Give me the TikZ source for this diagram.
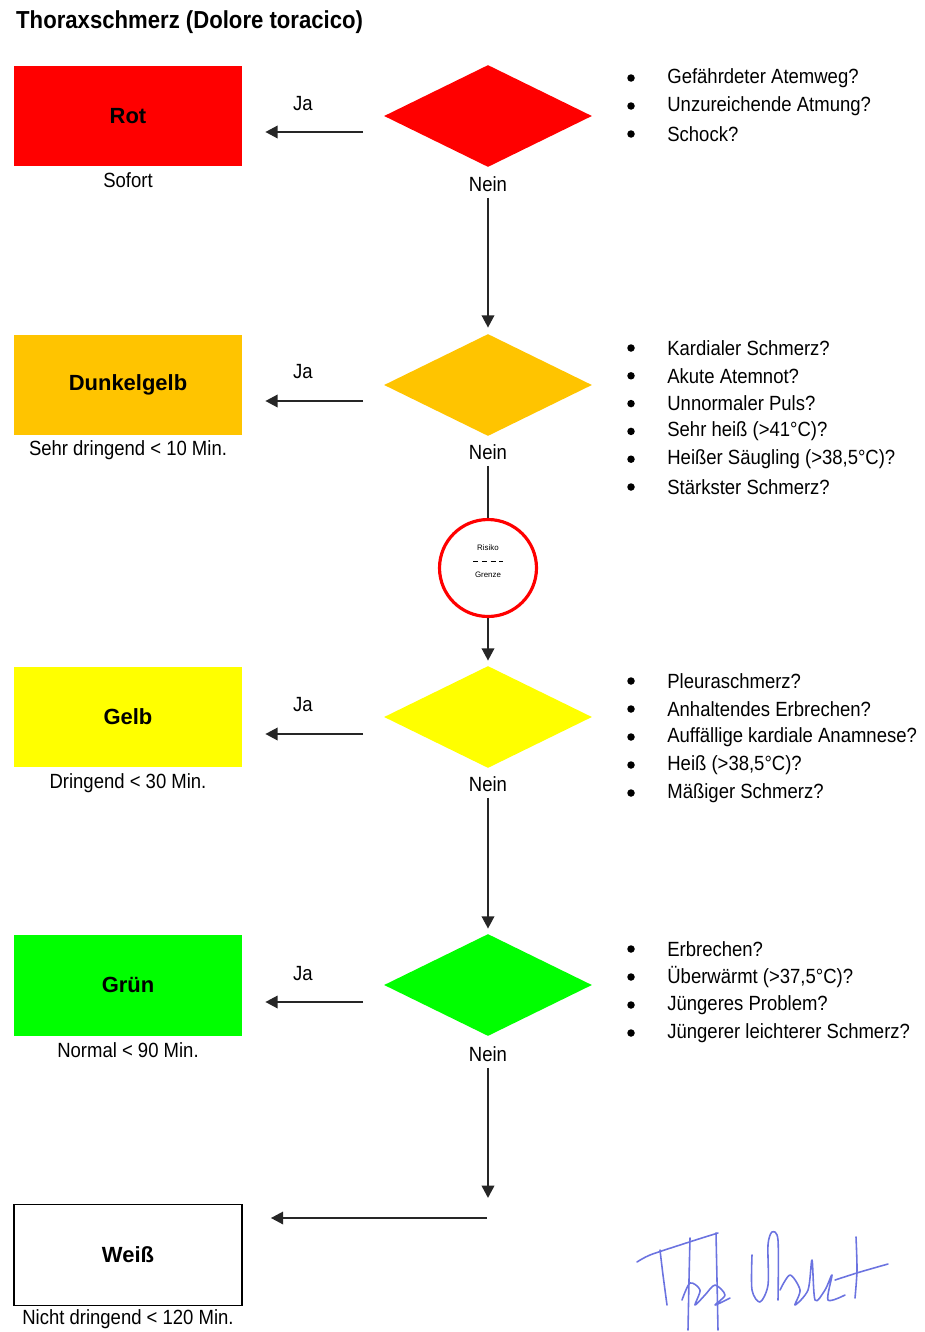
\documentclass[tikz,border=0pt]{standalone}
\usepackage{fontspec}
\setmainfont{Liberation Sans}
\newfontfamily\narrowfont[FakeStretch=0.9]{Liberation Sans}
\usetikzlibrary{shapes.geometric,arrows.meta}
\definecolor{rot}{HTML}{FF0000}
\definecolor{dunkelgelb}{HTML}{FFC400}
\definecolor{gelb}{HTML}{FFFF00}
\definecolor{gruen}{HTML}{00FF00}
\definecolor{sigblue}{HTML}{6B73E0}
\tikzset{
    level/.style={minimum width=4.56cm, minimum height=2.02cm, inner sep=0pt,
        font=\fontsize{12.5}{15}\selectfont\bfseries},
    query/.style={diamond, minimum width=4.16cm, minimum height=2.04cm, inner sep=0pt},
    txt/.style={font=\narrowfont\fontsize{11.7}{14}\selectfont},
    item/.style={txt, anchor=west, inner sep=0pt},
    dot/.style={circle, fill=black, inner sep=0pt, minimum size=0.15cm},
    arr/.style={-{Triangle[length=7pt,width=7pt]}, line width=1.4pt, black!85},
    sig/.style={sigblue, line width=0.9pt, line cap=round, line join=round}
}
\begin{document}
\begin{tikzpicture}[x=0.02cm, y=-0.02cm]
    \useasboundingbox (0,0) rectangle (925,1332);
    \node[anchor=west, font=\narrowfont\fontsize{14}{16}\selectfont\bfseries] (title) at (10,22) {Thoraxschmerz (Dolore toracico)};
    % Rot
    \node[level, fill=rot] (rot) at (128,116) {Rot};
    \node[txt] (rotsub) at (128,180) {Sofort};
    \node[query, fill=rot] (q1) at (488,116) {};
    \node[txt] (ja1) at (303,104) {Ja};
    \node[txt] (nein1) at (488,184) {Nein};
    \coordinate (ja1s) at (363,132);
    \draw[arr, shorten >=0.46cm] (ja1s) -- (rot.east |- ja1s);
    \foreach \t [count=\i] in {Gefährdeter Atemweg?, Unzureichende Atmung?, Schock?} {
        \node[dot] (b1-\i) at (631,{78+28*(\i-1)}) {};
        \node[item] (t1-\i) at (667,{78+28*(\i-1)}) {\t};
    }
    % Dunkelgelb
    \node[level, fill=dunkelgelb] (dgelb) at (128,385) {Dunkelgelb};
    \node[txt] (dgelbsub) at (128,450) {Sehr dringend < 10 Min.};
    \node[query, fill=dunkelgelb] (q2) at (488,385) {};
    \node[txt] (ja2) at (303,372) {Ja};
    \node[txt] (nein2) at (488,452) {Nein};
    \coordinate (ja2s) at (363,401);
    \draw[arr, shorten >=0.46cm] (ja2s) -- (dgelb.east |- ja2s);
    \draw[arr, shorten >=0.12cm] (nein1) -- (q2.north);
    \foreach \t [count=\i] in {Kardialer Schmerz?, Akute Atemnot?, Unnormaler Puls?, {Sehr heiß (>41°C)?}, {Heißer Säugling (>38,5°C)?}, Stärkster Schmerz?} {
        \node[dot] (b2-\i) at (631,{348+27.8*(\i-1)}) {};
        \node[item] (t2-\i) at (667,{348+27.8*(\i-1)}) {\t};
    }
    % Risiko-Grenze
    \node[circle, draw=rot, line width=1.8pt, minimum size=1.94cm, inner sep=0pt] (grenze) at (488,568) {};
    \node[font=\fontsize{4.5}{5}\selectfont, inner sep=0pt] (risk) at (488,548) {Risiko};
    \node[font=\fontsize{4.5}{5}\selectfont, inner sep=0pt] (grz) at (488,575) {Grenze};
    \draw[densely dashed, line width=0.5pt] (473,561) -- (503,561);
    \draw[line width=1.4pt, black!85] (nein2) -- (grenze.north);
    % Gelb
    \node[level, fill=gelb] (gelb) at (128,717) {Gelb};
    \node[txt] (gelbsub) at (128,783) {Dringend < 30 Min.};
    \node[query, fill=gelb] (q3) at (488,717) {};
    \node[txt] (ja3) at (303,705) {Ja};
    \node[txt] (nein3) at (488,784) {Nein};
    \coordinate (ja3s) at (363,734);
    \draw[arr, shorten >=0.46cm] (ja3s) -- (gelb.east |- ja3s);
    \draw[arr, shorten >=0.1cm] (grenze.south) -- (q3.north);
    \foreach \t [count=\i] in {Pleuraschmerz?, Anhaltendes Erbrechen?, Auffällige kardiale Anamnese?, {Heiß (>38,5°C)?}, Mäßiger Schmerz?} {
        \node[dot] (b3-\i) at (631,{681+28*(\i-1)}) {};
        \node[item] (t3-\i) at (667,{681+28*(\i-1)}) {\t};
    }
    % Gruen
    \node[level, fill=gruen] (gruen) at (128,985) {Grün};
    \node[txt] (gruensub) at (128,1050) {Normal < 90 Min.};
    \node[query, fill=gruen] (q4) at (488,985) {};
    \node[txt] (ja4) at (303,974) {Ja};
    \node[txt] (nein4) at (488,1054) {Nein};
    \coordinate (ja4s) at (363,1002);
    \draw[arr, shorten >=0.46cm] (ja4s) -- (gruen.east |- ja4s);
    \draw[arr, shorten >=0.1cm] (nein3) -- (q4.north);
    \foreach \t [count=\i] in {Erbrechen?, {Überwärmt (>37,5°C)?}, Jüngeres Problem?, Jüngerer leichterer Schmerz?} {
        \node[dot] (b4-\i) at (631,{949+28*(\i-1)}) {};
        \node[item] (t4-\i) at (667,{949+28*(\i-1)}) {\t};
    }
    % Weiss
    \node[level, draw, line width=1pt] (weiss) at (128,1255) {Weiß};
    \node[txt] (weisssub) at (128,1319) {Nicht dringend < 120 Min.};
    \coordinate (down) at (488,1198);
    \coordinate (weisss) at (487,1218);
    \draw[arr] (nein4) -- (down);
    \draw[arr, shorten >=0.56cm] (weisss) -- (weiss.east |- weisss);
    % Unterschrift
    \draw[sig] plot[smooth] coordinates {(637,1262) (650,1255) (680,1245) (705,1237) (718,1233)};
    \draw[sig] plot[smooth] coordinates {(660,1250) (663,1275) (667,1305)};
    \draw[sig] plot[smooth] coordinates {(690,1238) (689,1280) (688,1330)};
    \draw[sig] plot[smooth] coordinates {(716,1233) (717,1280) (718,1330)};
    \draw[sig] plot[smooth] coordinates {(682,1300) (690,1283) (700,1290) (695,1305) (705,1295) (715,1285) (725,1295) (715,1305) (730,1298)};
    \draw[sig] plot[smooth] coordinates {(752,1255) (752,1290) (760,1302) (768,1285) (768,1245) (772,1232) (778,1240) (778,1300)};
    \draw[sig] plot[smooth] coordinates {(780,1290) (790,1275) (800,1290) (795,1305) (808,1290) (812,1260) (815,1300) (825,1290) (832,1275) (828,1300) (845,1295)};
    \draw[sig] plot[smooth] coordinates {(856,1237) (857,1270) (855,1298)};
    \draw[sig] plot[smooth] coordinates {(835,1280) (860,1272) (888,1264)};
\end{tikzpicture}
\end{document}
